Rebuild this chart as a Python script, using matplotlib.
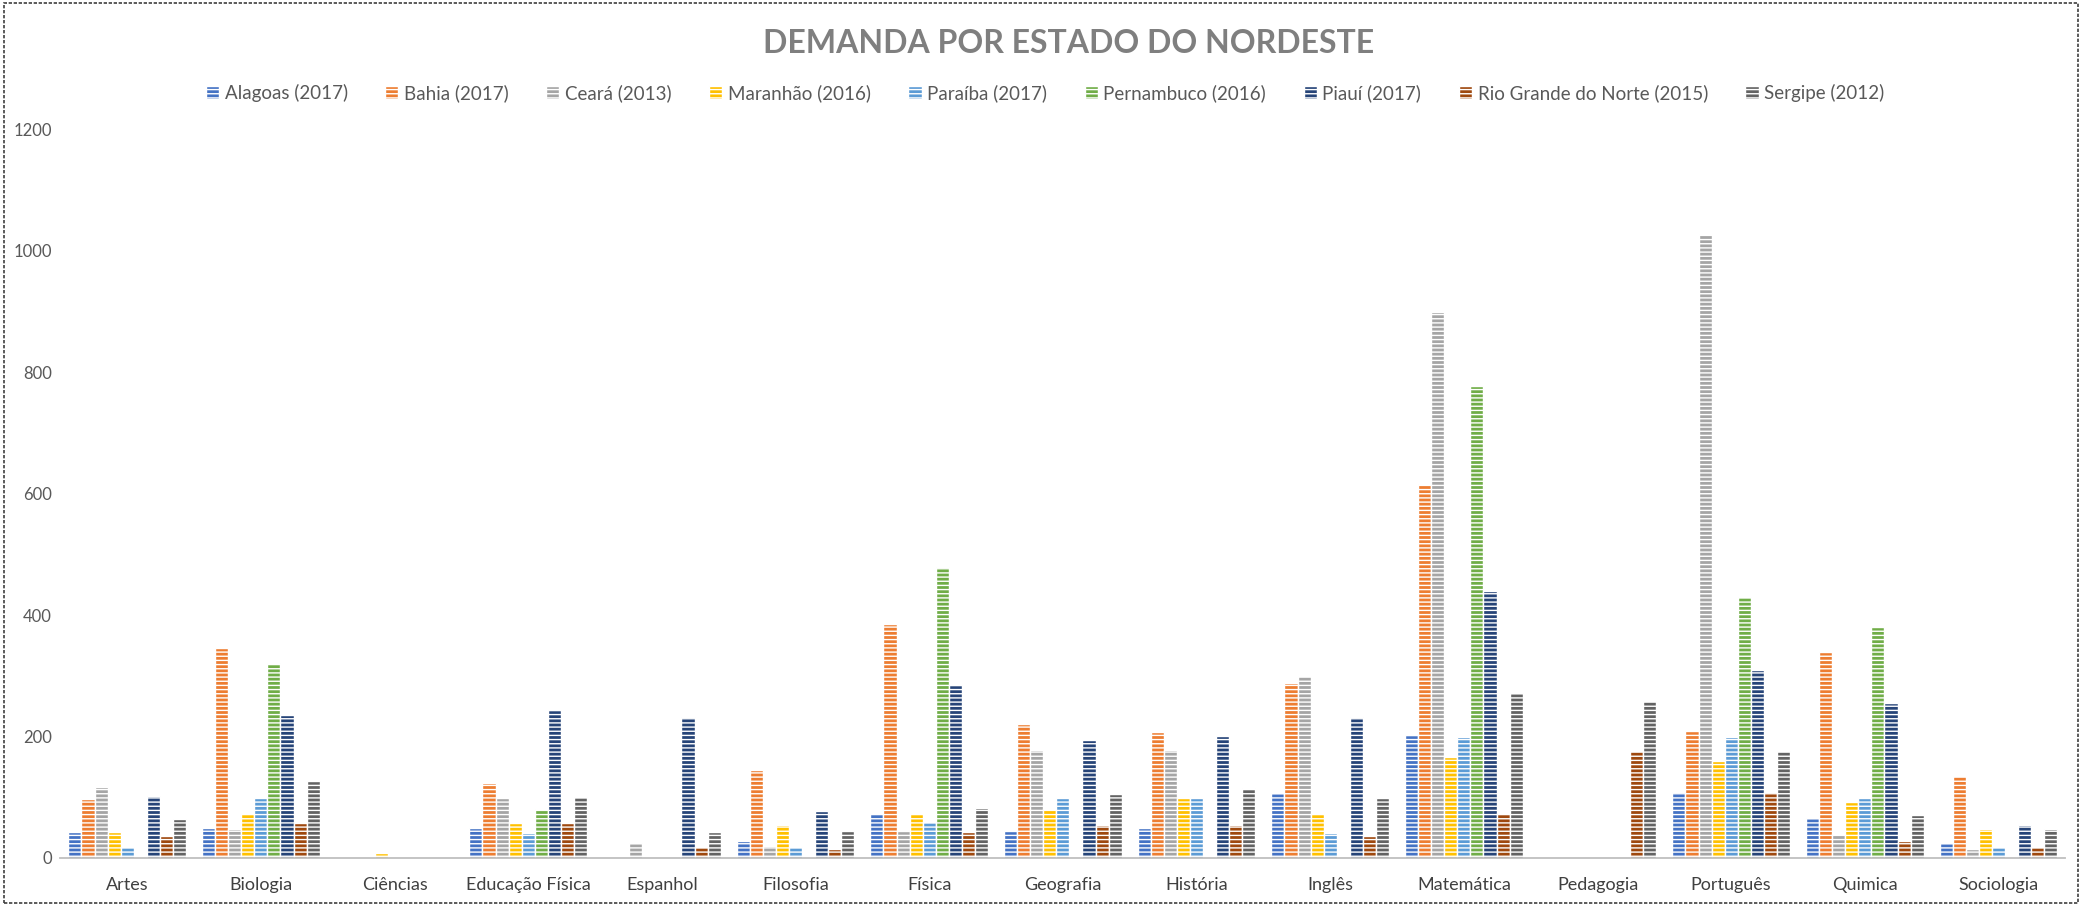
import numpy as np
import matplotlib
matplotlib.use("Agg")
import matplotlib.pyplot as plt
from matplotlib.patches import Rectangle

plt.rcParams['font.family'] = ['Lato', 'DejaVu Sans']
plt.rcParams['hatch.linewidth'] = 1.0

categories = ['Artes', 'Biologia', 'Ciências', 'Educação Física', 'Espanhol', 'Filosofia',
              'Física', 'Geografia', 'História', 'Inglês', 'Matemática', 'Pedagogia',
              'Português', 'Quimica', 'Sociologia']

states = ['Alagoas (2017)', 'Bahia (2017)', 'Ceará (2013)', 'Maranhão (2016)', 'Paraíba (2017)',
          'Pernambuco (2016)', 'Piauí (2017)', 'Rio Grande do Norte (2015)', 'Sergipe (2012)']

alagoas = [42, 50, 0, 49, 0, 28, 74, 44, 50, 107, 203, 0, 108, 66, 25]
bahia = [97, 346, 0, 123, 0, 145, 385, 221, 208, 289, 616, 0, 209, 339, 135]
ceara = [117, 47, 0, 99, 25, 20, 45, 178, 178, 300, 900, 0, 1028, 40, 14]
maranhao = [43, 74, 9, 58, 0, 54, 74, 80, 99, 74, 166, 0, 160, 92, 47]
paraiba = [18, 99, 0, 41, 0, 18, 60, 99, 99, 41, 200, 0, 200, 98, 18]
pernambuco = [0, 321, 0, 80, 0, 0, 480, 0, 0, 0, 778, 0, 430, 380, 0]
piaui = [102, 236, 0, 243, 233, 77, 285, 194, 201, 233, 440, 0, 310, 255, 54]
rn = [37, 58, 0, 58, 18, 15, 42, 54, 54, 37, 74, 177, 108, 28, 18]
sergipe = [64, 126, 0, 100, 42, 45, 83, 106, 116, 99, 272, 258, 177, 70, 47]

series = [alagoas, bahia, ceara, maranhao, paraiba, pernambuco, piaui, rn, sergipe]
colors = ['#4472C4', '#ED7D31', '#A5A5A5', '#FFC000', '#5B9BD5',
          '#70AD47', '#264478', '#9E480E', '#636363']

fig = plt.figure(figsize=(20.82, 9.06), dpi=100)
ax = fig.add_axes([0.029, 0.053, 0.963, 0.804])

x = np.arange(len(categories))
group_w = 0.88
bar_w = group_w / len(series)

for i, (vals, col, name) in enumerate(zip(series, colors, states)):
    pos = x - group_w / 2 + bar_w * (i + 0.5)
    ax.bar(pos, vals, width=bar_w, color=col, edgecolor='white', linewidth=1.0,
           hatch='----', label=name)

ax.set_xlim(-0.5, len(categories) - 0.5)
ax.set_ylim(0, 1200)
ax.set_yticks(range(0, 1201, 200))
ax.set_xticks(x)
ax.set_xticklabels(categories, color='#404040')
ax.tick_params(axis='both', length=0, labelsize=12, colors='#595959')
ax.tick_params(axis='x', labelsize=13, pad=14, colors='#404040')
ax.tick_params(axis='y', pad=6)

for s in ['top', 'right', 'left']:
    ax.spines[s].set_visible(False)
ax.spines['bottom'].set_color('#BFBFBF')
ax.spines['bottom'].set_linewidth(1.3)

fig.text(0.513, 0.952, 'DEMANDA POR ESTADO DO NORDESTE', ha='center', va='center',
         fontsize=23, fontweight='bold', color='#7F7F7F')

fig.legend(loc='center', bbox_to_anchor=(0.502, 0.897), ncol=9, frameon=False,
           fontsize=13.5, labelcolor='#595959', handlelength=0.7, handleheight=0.7,
           handletextpad=0.3, columnspacing=2.0)

fig.patches.append(Rectangle((0.002, 0.003), 0.996, 0.994, transform=fig.transFigure,
                             fill=False, edgecolor='#404040', linewidth=1.2,
                             linestyle=(0, (2, 1))))

fig.savefig('out.png', dpi=100)
